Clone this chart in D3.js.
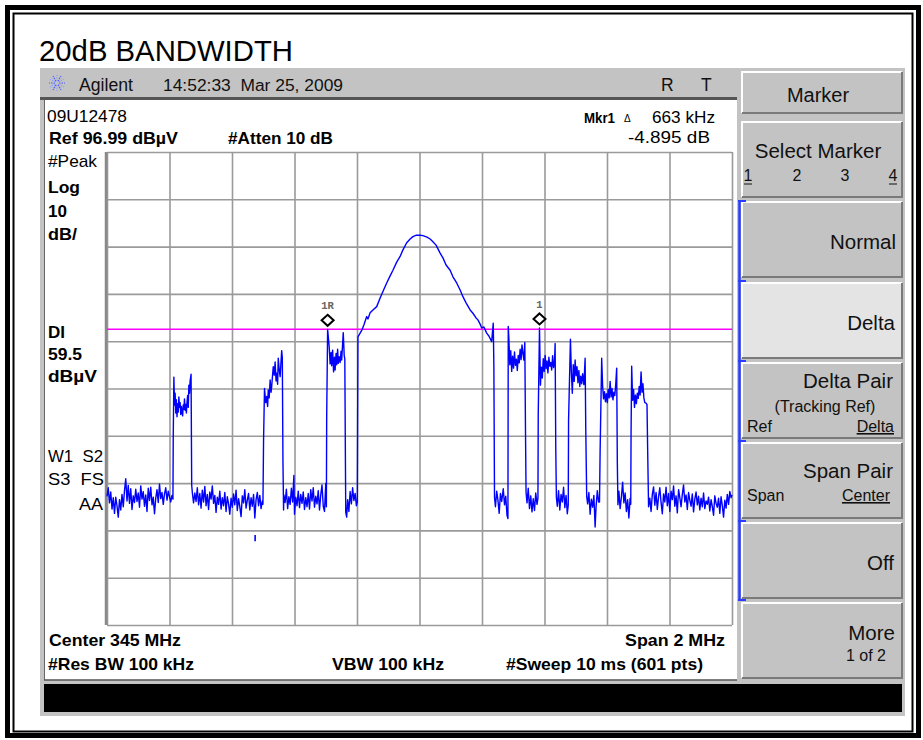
<!DOCTYPE html>
<html>
<head>
<meta charset="utf-8">
<script src="https://cdn.jsdelivr.net/npm/d3@7"></script>
<style>
  body { margin: 0; background: #fff; }
  svg { display: block; }
</style>
</head>
<body>
<div id="chart"></div>
<script>
// analyzer settings
var startMHz = 344, stopMHz = 346;
var refLevel = 96.99, dbPerDiv = 10, numDiv = 10;
var displayLine = 59.5;

// trace: [kHz from start freq, level dBuV]
var trace = [
  // noise floor left
  [0,24.2],[4,26.0],[8,22.8],[12,25.1],[16,21.5],[20,23.9],[24,20.6],[28,24.0],[32,22.2],[36,19.8],
  [40,23.5],[44,21.3],[48,24.6],[52,22.0],[56,25.4],[60,27.9],[64,23.2],[68,26.5],[72,22.7],[76,25.8],
  [80,21.4],[84,24.3],[88,22.9],[92,25.7],[96,23.1],[100,24.9],[104,21.9],[108,26.4],[112,23.6],[116,25.2],
  [120,22.1],[124,24.5],[128,21.0],[132,25.9],[136,23.3],[140,26.1],[144,22.4],[148,24.0],[152,20.5],[156,23.8],
  [160,25.6],[164,22.9],[168,26.8],[172,23.7],[176,25.0],[180,22.5],[184,24.7],[188,26.0],[192,23.4],[196,25.3],
  [200,24.1],[204,23.0],[208,24.4],[211,23.6],
  // channel 1
  [212,37.0],[214,49.4],[216,43.5],[218,46.0],[220,41.8],[222,44.6],[224,41.0],[226,43.8],[228,42.0],[230,45.2],
  [232,43.0],[234,44.0],[236,41.5],[238,43.2],[240,42.0],[242,41.2],[244,43.5],[246,42.6],[248,44.8],[250,42.4],
  [252,43.6],[254,41.8],[256,44.0],[258,45.5],[260,43.0],[262,47.7],[264,46.0],[266,48.6],[269,50.0],[271,26.6],
  [273,25.0],[277,22.8],[281,24.9],[285,23.1],[289,26.0],[293,22.4],[297,24.8],[301,21.7],[305,25.5],[309,23.0],
  [313,26.3],[317,22.2],[321,24.6],[325,21.4],[329,25.1],[333,23.6],[337,26.4],[341,22.7],[345,24.4],[349,20.8],
  [353,24.0],[357,22.5],[361,25.3],[365,21.5],[369,23.9],[373,22.2],[377,25.0],[381,21.0],[385,24.1],[389,22.6],
  [393,20.4],[397,23.8],[401,21.9],[405,24.7],[409,22.4],[413,25.5],[417,21.2],[421,23.7],[425,22.0],[429,19.9],
  [433,24.3],[437,22.8],[441,25.6],[445,21.7],[449,23.4],[453,24.8],[457,21.3],[461,23.9],[465,22.1],[469,24.6],
  [473,19.6],[477,23.5],[481,25.0],[485,22.2],[489,24.4],[493,21.6],[497,23.2],[499,22.5],
  // channel 2
  [501,36.1],[504,47.0],[508,44.0],[511,45.3],[514,43.2],[516,46.7],[519,45.0],[522,48.8],[525,46.2],[527,47.4],
  [530,50.0],[532,51.6],[535,49.8],[538,52.6],[541,48.6],[543,50.2],[546,47.9],[548,53.4],[551,51.0],[554,49.5],
  [557,52.8],[559,55.0],[561,53.5],[563,31.9],[565,21.3],
  [566,24.5],[570,22.9],[574,25.7],[578,21.6],[582,24.1],[586,22.5],[590,25.9],[594,23.0],[598,28.6],[600,20.4],
  [604,24.0],[608,22.2],[612,25.3],[616,21.8],[620,24.6],[624,22.7],[628,25.1],[632,21.4],[636,23.9],[640,22.0],
  [644,24.8],[648,21.5],[652,25.6],[656,23.2],[660,26.0],[664,21.9],[668,24.2],[672,22.6],[676,25.4],[680,21.3],
  [684,24.5],[688,26.6],[692,22.1],[696,21.0],[700,26.9],[702,22.0],
  // channel 3 (marker 1R)
  [703,40.9],[706,59.5],[708,58.0],[711,55.8],[714,52.2],[717,54.6],[719,51.8],[722,55.1],[725,50.5],[728,53.6],
  [730,50.9],[733,54.4],[735,52.0],[738,55.3],[740,52.3],[743,53.7],[746,52.5],[749,54.9],[751,53.0],[754,56.5],
  [756,58.8],[759,54.0],[761,53.2],[763,31.0],[764,20.8],
  [767,19.8],[770,23.5],[774,21.0],[778,25.2],[782,22.6],[786,26.0],[790,23.3],[794,24.8],[798,22.2],[801,23.0],
  // main carrier
  [803,57.9],[810,58.7],[816,59.4],[822,60.4],[831,62.2],[835,61.7],[842,63.0],[851,63.6],[863,64.3],[874,66.1],
  [883,67.5],[895,69.3],[906,70.8],[915,72.0],[927,73.7],[938,74.9],[947,76.3],[959,77.8],[970,78.6],[979,79.1],
  [990,79.4],[1002,79.4],[1011,79.3],[1024,79.0],[1034,78.6],[1043,78.0],[1053,77.3],[1066,75.6],[1075,74.6],[1085,73.1],
  [1098,72.0],[1107,70.6],[1119,69.3],[1130,67.8],[1139,66.4],[1149,65.1],[1162,63.6],[1171,62.9],[1181,61.9],[1187,61.5],
  [1194,60.6],[1199,59.8],[1206,60.0],[1215,58.7],[1222,58.1],[1231,56.9],[1236,60.8],[1238,51.6],[1240,24.0],
  [1243,22.0],[1247,25.3],[1251,23.4],[1255,20.6],[1259,24.8],[1263,23.1],[1268,25.8],[1272,22.4],[1276,24.2],[1280,20.2],
  [1283,19.5],
  // channel 4
  [1284,60.1],[1286,57.5],[1289,52.0],[1292,55.0],[1295,50.6],[1298,53.8],[1301,51.3],[1304,54.7],[1307,51.9],[1310,53.2],
  [1313,50.8],[1316,54.0],[1319,52.4],[1322,55.3],[1325,53.1],[1328,56.2],[1331,54.4],[1334,53.0],[1337,56.7],[1339,39.3],
  [1341,25.0],[1344,22.8],[1348,25.9],[1352,21.6],[1356,24.3],[1360,20.9],[1364,23.7],[1368,21.2],[1372,24.9],[1376,22.5],
  [1379,23.8],
  // channel 5 (marker 1)
  [1380,41.8],[1384,59.8],[1387,47.7],[1390,51.5],[1393,49.2],[1396,53.3],[1399,50.6],[1402,54.0],[1405,51.2],[1408,52.8],
  [1411,50.3],[1414,53.6],[1417,51.7],[1420,52.5],[1423,50.9],[1426,53.9],[1429,51.4],[1432,52.6],[1434,56.5],[1436,34.7],
  [1438,24.0],[1441,22.1],[1445,25.4],[1449,21.3],[1453,24.6],[1457,23.0],[1461,26.1],[1465,21.8],[1469,24.4],[1473,20.5],
  [1476,22.3],
  // channel 6
  [1477,40.3],[1483,57.4],[1486,50.3],[1489,46.0],[1492,52.0],[1495,48.5],[1498,53.0],[1501,49.7],[1504,51.6],[1507,48.2],
  [1510,50.8],[1513,47.4],[1516,49.6],[1519,48.0],[1522,50.1],[1526,47.8],[1530,53.4],[1532,38.6],[1535,24.2],
  [1538,22.6],[1542,25.0],[1546,20.4],[1550,23.6],[1554,21.9],[1558,24.4],[1562,17.7],[1565,22.0],[1569,25.4],[1573,23.0],
  [1576,23.0],
  // channel 7
  [1578,33.9],[1583,53.4],[1586,47.5],[1589,44.8],[1592,46.3],[1595,44.2],[1598,45.9],[1601,44.0],[1604,46.8],[1607,45.0],
  [1610,48.5],[1613,45.2],[1616,47.0],[1619,44.6],[1622,46.2],[1625,45.5],[1628,48.0],[1631,51.3],[1633,31.5],[1635,22.4],
  [1638,25.3],[1642,21.6],[1646,24.0],[1650,27.2],[1654,22.8],[1658,24.9],[1662,21.0],[1666,23.5],[1670,19.6],[1674,23.8],
  [1676,22.5],
  // channel 8
  [1677,37.6],[1679,51.7],[1682,44.5],[1685,46.8],[1688,43.0],[1691,45.6],[1694,43.8],[1697,46.0],[1700,44.9],[1703,47.4],
  [1706,45.6],[1709,50.5],[1712,46.2],[1715,48.0],[1718,45.0],[1721,44.0],[1725,43.9],[1728,43.6],[1730,34.5],[1733,22.0],
  // noise floor right
  [1737,23.8],[1741,21.0],[1745,24.6],[1749,26.2],[1753,22.3],[1757,25.0],[1761,21.4],[1765,24.1],[1769,26.0],[1773,22.9],
  [1777,20.5],[1781,24.7],[1785,23.0],[1789,26.1],[1793,22.2],[1797,24.8],[1801,21.0],[1805,25.3],[1809,23.5],[1813,26.4],
  [1817,22.1],[1821,24.3],[1825,20.7],[1829,25.6],[1833,23.9],[1837,22.0],[1841,24.6],[1845,26.6],[1849,23.0],[1853,24.5],
  [1857,21.4],[1861,25.0],[1865,23.4],[1869,22.1],[1873,24.7],[1877,20.9],[1881,23.6],[1885,25.1],[1889,22.4],[1893,24.2],
  [1897,21.3],[1901,23.8],[1905,22.0],[1909,24.9],[1913,21.6],[1917,23.2],[1921,22.5],[1925,24.0],[1929,21.1],[1933,23.5],
  [1937,22.0],[1941,20.2],[1945,24.3],[1949,22.7],[1953,21.9],[1957,23.8],[1961,20.6],[1965,24.1],[1969,22.2],[1973,19.8],
  [1977,23.4],[1981,21.7],[1985,24.6],[1989,22.5],[1993,25.2],[1997,23.9],[2000,24.5]
];

// stray trace dot under the noise: [kHz, top dB, bottom dB]
var glitch = [474, 16.0, 14.7];

var markerLabels = ["1R", "1"];
var markerKHz = [706, 1384];

var leftLabels = ["#Peak", "Log", "10", "dB/", "DI", "59.5", "dBµV", "W1  S2", "S3  FS", "AA"];
var softkeyLabels = ["Select Marker", "Normal", "Delta", "Delta Pair", "Span Pair", "Off", "More"];

var uiFont = "'Liberation Sans',Arial,sans-serif";
var keyFont = "'Liberation Sans',Arial,sans-serif";

var W = 923, H = 740;
var svg = d3.select("#chart").append("svg")
    .attr("width", W)
    .attr("height", H);

// helper: text squeezed / stretched to the width seen on the screen shot
function label(g, x, y, s, len, opts) {
  opts = opts || {};
  var t = g.append("text").attr("x", x).attr("y", y)
      .style("white-space", "pre")
      .attr("text-anchor", opts.anchor || "start")
      .style("font-weight", opts.bold ? "bold" : "normal")
      .style("font-size", (opts.size || 16) + "px")
      .text(s);
  if (len) t.attr("textLength", len).attr("lengthAdjust", "spacingAndGlyphs");
  return t;
}

// page frame
svg.append("rect").attr("x", 7.5).attr("y", 7.5).attr("width", 911).attr("height", 728)
    .attr("fill", "none").attr("stroke", "#000").attr("stroke-width", 5);
svg.append("rect").attr("x", 13.5).attr("y", 13.5).attr("width", 899).attr("height", 718)
    .attr("fill", "none").attr("stroke", "#000").attr("stroke-width", 2);

svg.append("text").attr("x", 39).attr("y", 61)
    .style("font-family", keyFont).style("font-size", "29.3px")
    .text("20dB BANDWIDTH");

// instrument screen
svg.append("rect").attr("x", 40).attr("y", 68).attr("width", 865).attr("height", 648).attr("fill", "#c3c3c3");
svg.append("rect").attr("x", 40).attr("y", 97).attr("width", 697).attr("height", 3).attr("fill", "#555");
svg.append("rect").attr("x", 44).attr("y", 100).attr("width", 693).attr("height", 580).attr("fill", "#fff");
svg.append("line").attr("x1", 44.5).attr("x2", 44.5).attr("y1", 100).attr("y2", 680).attr("stroke", "#666");
svg.append("line").attr("x1", 44).attr("x2", 737).attr("y1", 680).attr("y2", 680).attr("stroke", "#555").attr("stroke-width", 1.5);
svg.append("rect").attr("x", 44).attr("y", 684).attr("width", 858).attr("height", 28).attr("fill", "#000");

// agilent logo
var logo = svg.append("g").attr("transform", "translate(57,83)");
d3.range(12).forEach(function(i) {
  var a = i * Math.PI / 6;
  logo.append("line").attr("x1", 2 * Math.cos(a)).attr("y1", 2 * Math.sin(a))
      .attr("x2", 8 * Math.cos(a)).attr("y2", 8 * Math.sin(a))
      .attr("stroke", i % 2 ? "#8ea0ff" : "#4a5cff").attr("stroke-width", 1.2)
      .attr("stroke-dasharray", "1.5,1");
});

var header = svg.append("g").style("font-family", keyFont).attr("fill", "#111");
label(header, 79, 91, "Agilent", 54, {size: 17.5});
label(header, 163, 91, "14:52:33  Mar 25, 2009", 180, {size: 16});
label(header, 661, 91, "R", null, {size: 17.5});
label(header, 701, 91, "T", null, {size: 17.5});

// scales
var plot = {left: 107, top: 152, width: 625, height: 473};
var x = d3.scaleLinear().domain([startMHz, stopMHz]).range([plot.left, plot.left + plot.width]);
var y = d3.scaleLinear().domain([refLevel - dbPerDiv * numDiv, refLevel]).range([plot.top + plot.height, plot.top]);

// graticule
var xGrid = svg.append("g")
    .attr("transform", "translate(0," + (plot.top + plot.height) + ")")
    .call(d3.axisBottom(x)
      .tickValues(d3.range(numDiv + 1).map(function(i) { return startMHz + i * (stopMHz - startMHz) / numDiv; }))
      .tickSize(-plot.height).tickFormat(""));
var yGrid = svg.append("g")
    .attr("transform", "translate(" + plot.left + ",0)")
    .call(d3.axisLeft(y)
      .tickValues(d3.range(numDiv + 1).map(function(i) { return refLevel - i * dbPerDiv; }))
      .tickSize(-plot.width).tickFormat(""));
svg.selectAll(".domain").remove();
svg.selectAll(".tick line").attr("stroke", "#9a9a9a").attr("stroke-width", 1.6);
svg.append("line").attr("x1", plot.left - 1).attr("x2", plot.left - 1)
    .attr("y1", plot.top).attr("y2", plot.top + plot.height)
    .attr("stroke", "#8a8a8a").attr("stroke-width", 2.5);

// display line
svg.append("line")
    .attr("x1", x(startMHz)).attr("x2", x(stopMHz))
    .attr("y1", y(displayLine)).attr("y2", y(displayLine))
    .attr("stroke", "#ff00ff").attr("stroke-width", 1.5);

// trace
function fOf(k) { return startMHz + k / 1000; }
var line = d3.line()
    .x(function(d) { return x(fOf(d[0])); })
    .y(function(d) { return y(d[1]); });
svg.append("path").datum(trace)
    .attr("d", line)
    .attr("fill", "none").attr("stroke", "#0000ff").attr("stroke-width", 1.4)
    .attr("stroke-linejoin", "round");
svg.append("line")
    .attr("x1", x(fOf(glitch[0]))).attr("x2", x(fOf(glitch[0])))
    .attr("y1", y(glitch[1])).attr("y2", y(glitch[2]))
    .attr("stroke", "#0000ff").attr("stroke-width", 1.6);

// markers
markerKHz.forEach(function(k, i) {
  var pt = trace.reduce(function(a, b) { return Math.abs(b[0] - k) < Math.abs(a[0] - k) ? b : a; });
  var cx = x(fOf(pt[0])), cy = y(pt[1]) - 9;
  svg.append("path")
      .attr("d", "M" + cx + "," + (cy - 5.5) + "L" + (cx + 6) + "," + cy + "L" + cx + "," + (cy + 5.5) + "L" + (cx - 6) + "," + cy + "Z")
      .attr("fill", "#fff").attr("stroke", "#000").attr("stroke-width", 2);
  svg.append("text").attr("x", cx).attr("y", cy - 11)
      .attr("text-anchor", "middle")
      .style("font-family", "'Liberation Mono','DejaVu Sans Mono',monospace").style("font-size", "10.5px")
      .style("font-weight", "bold")
      .attr("fill", "#666")
      .text(markerLabels[i]);
});

// screen annotations
var ann = svg.append("g").style("font-family", uiFont).attr("fill", "#000");
label(ann, 47, 122, "09U12478", 80, {size: 16});
label(ann, 49, 144, "Ref 96.99 dBµV", 129, {size: 16.5, bold: true});
label(ann, 228, 144, "#Atten 10 dB", 105, {size: 16.5, bold: true});
label(ann, 584, 123, "Mkr1", 31, {size: 15, bold: true});
label(ann, 624, 122, "\u0394", null, {size: 10});
label(ann, 652, 123, "663 kHz", 63, {size: 16});
label(ann, 628, 143, "-4.895 dB", 82, {size: 16});

var leftY = [167, 193, 217, 240, 338, 360, 382, 462, 485, 510];
var leftBold = [false, true, true, true, true, true, true, false, false, false];
var leftLen = [49, 32, 19, 29, 17, 34, 49, 55, 56, 24];
leftLabels.forEach(function(t, i) {
  label(ann, i === 9 ? 103 : 48, leftY[i], t, leftLen[i],
        {anchor: i === 9 ? "end" : "start", bold: leftBold[i], size: leftBold[i] ? 16.5 : 17});
});

var bottom = ann.append("g");
label(bottom, 49, 646, "Center 345 MHz", 132, {size: 17, bold: true});
label(bottom, 725, 646, "Span 2 MHz", 100, {size: 17, bold: true, anchor: "end"});
label(bottom, 48, 670, "#Res BW 100 kHz", 146, {size: 17, bold: true});
label(bottom, 332, 670, "VBW 100 kHz", 112, {size: 17, bold: true});
label(bottom, 506, 670, "#Sweep 10 ms (601 pts)", 197, {size: 17, bold: true});

// softkeys
function key(y0, h, fill) {
  var g = svg.append("g");
  g.append("rect").attr("x", 742).attr("y", y0).attr("width", 160).attr("height", h).attr("fill", fill);
  g.append("path").attr("d", "M742," + (y0 + h) + "V" + y0 + "H902")
      .attr("fill", "none").attr("stroke", "#fff").attr("stroke-width", 2);
  g.append("path").attr("d", "M742," + (y0 + h) + "H902V" + y0)
      .attr("fill", "none").attr("stroke", "#7a7a7a").attr("stroke-width", 2);
  return g;
}
key(72, 41, "#c3c3c3");
var keyTops = [122, 202, 283, 363, 443, 523, 603];
keyTops.forEach(function(t, i) { key(t, 75, i === 2 ? "#e4e4e4" : "#c3c3c3"); });

// blue bracket of the marker mode group
svg.append("line").attr("x1", 739.5).attr("x2", 739.5).attr("y1", 201).attr("y2", 600)
    .attr("stroke", "#2a3cff").attr("stroke-width", 2.5);
[201, 281, 361, 441, 521, 600].forEach(function(t) {
  svg.append("line").attr("x1", 738).attr("x2", 746).attr("y1", t).attr("y2", t)
      .attr("stroke", "#2a3cff").attr("stroke-width", 2);
});

var kt = svg.append("g").style("font-family", keyFont).attr("fill", "#111");
kt.append("text").attr("x", 818).attr("y", 102).attr("text-anchor", "middle").style("font-size", "20px").text("Marker");
kt.append("text").attr("x", 818).attr("y", 158).attr("text-anchor", "middle").style("font-size", "20.5px").text(softkeyLabels[0]);
["1", "2", "3", "4"].forEach(function(n, i) {
  var xx = [748, 797, 845, 893][i];
  kt.append("text").attr("x", xx).attr("y", 181).attr("text-anchor", "middle").style("font-size", "16px").text(n);
  if (i === 0 || i === 3) {
    kt.append("line").attr("x1", xx - 4).attr("x2", xx + 4).attr("y1", 184).attr("y2", 184).attr("stroke", "#111");
  }
});
kt.append("text").attr("x", 896).attr("y", 249).attr("text-anchor", "end").style("font-size", "20.5px").text(softkeyLabels[1]);
kt.append("text").attr("x", 895).attr("y", 330).attr("text-anchor", "end").style("font-size", "20.5px").text(softkeyLabels[2]);
kt.append("text").attr("x", 893).attr("y", 388).attr("text-anchor", "end").style("font-size", "20.5px").text(softkeyLabels[3]);
kt.append("text").attr("x", 825).attr("y", 412).attr("text-anchor", "middle").style("font-size", "16px").text("(Tracking Ref)");
kt.append("text").attr("x", 747).attr("y", 432).style("font-size", "16px").text("Ref");
kt.append("text").attr("x", 894).attr("y", 432).attr("text-anchor", "end").style("font-size", "16px").style("text-decoration", "underline").text("Delta");
kt.append("text").attr("x", 893).attr("y", 478).attr("text-anchor", "end").style("font-size", "20.5px").text(softkeyLabels[4]);
kt.append("text").attr("x", 747).attr("y", 501).style("font-size", "16px").text("Span");
kt.append("text").attr("x", 890).attr("y", 501).attr("text-anchor", "end").style("font-size", "16px").style("text-decoration", "underline").text("Center");
kt.append("text").attr("x", 894).attr("y", 570).attr("text-anchor", "end").style("font-size", "20.5px").text(softkeyLabels[5]);
kt.append("text").attr("x", 895).attr("y", 640).attr("text-anchor", "end").style("font-size", "20.5px").text(softkeyLabels[6]);
kt.append("text").attr("x", 886).attr("y", 661).attr("text-anchor", "end").style("font-size", "16px").text("1 of 2");
</script>
</body>
</html>
